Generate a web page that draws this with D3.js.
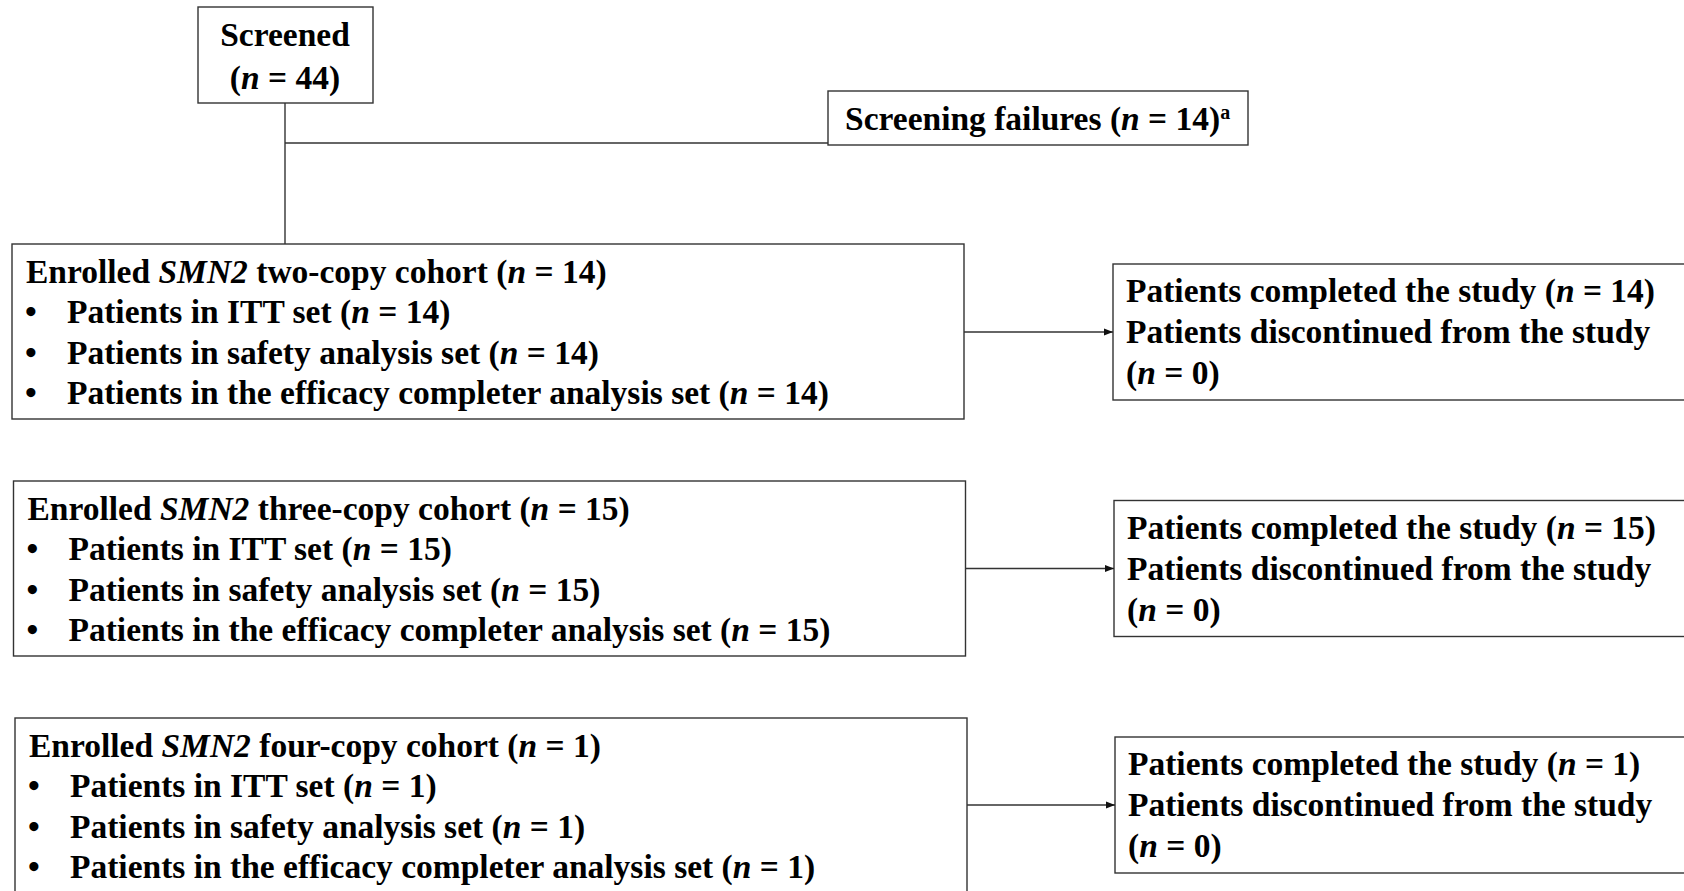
<!DOCTYPE html>
<html>
<head>
<meta charset="utf-8">
<script src="https://cdn.jsdelivr.net/npm/d3@7"></script>
<style>
  html, body { margin: 0; padding: 0; background: #fff; }
  svg { display: block; }
  text { font-family: "Liberation Serif", "Times New Roman", serif; font-weight: bold; fill: #000; }
</style>
</head>
<body>
<svg id="chart" width="1684" height="891"></svg>
<script>
// ---- data ----
const screenedN = 44;
const screeningFailuresN = 14;
const cohortLabels = ["two-copy", "three-copy", "four-copy"];
const cohortN = [14, 15, 1];
const ittN = [14, 15, 1];
const safetyN = [14, 15, 1];
const efficacyN = [14, 15, 1];
const completedN = [14, 15, 1];
const discontinuedN = [0, 0, 0];

// ---- layout ----
const W = 1684, H = 891;
const FS = 33.5;
const stroke = "#333";
const svg = d3.select("#chart");

svg.append("defs").append("marker")
  .attr("id", "arrow").attr("markerUnits", "userSpaceOnUse")
  .attr("viewBox", "0 -5 10 10").attr("refX", 10).attr("refY", 0)
  .attr("markerWidth", 9).attr("markerHeight", 9).attr("orient", "auto")
  .append("path").attr("d", "M0,-4L10,0L0,4Z").attr("fill", "#111");

// rich text: segments split on underscores -> italic
function rich(sel, str) {
  str.split("_").forEach((s, i) => {
    if (!s) return;
    sel.append("tspan").attr("font-style", i % 2 ? "italic" : "normal").text(s);
  });
  return sel;
}

// row scales
const rowTop = d3.scalePoint().domain(cohortLabels).range([244, 718]);
const rowLeft = d3.scalePoint().domain(cohortLabels).range([12, 15]);
const leftW = 952, leftH = 175;
const rightX = d3.scalePoint().domain(cohortLabels).range([1113, 1115]);
const rightOffset = d3.scalePoint().domain(cohortLabels).range([20, 19]);
const rightH = 136;
const lineGap = 40.3;

// Screened box
const scr = { x: 198, y: 7, w: 175, h: 96 };
const scrCx = 285;
svg.append("rect").attr("x", scr.x).attr("y", scr.y).attr("width", scr.w).attr("height", scr.h)
  .attr("fill", "#fff").attr("stroke", stroke).attr("stroke-width", 1.4);
rich(svg.append("text").attr("x", scrCx).attr("y", 46).attr("text-anchor", "middle").attr("font-size", FS), "Screened");
rich(svg.append("text").attr("x", scrCx).attr("y", 89).attr("text-anchor", "middle").attr("font-size", FS), "(_n_ = " + screenedN + ")");

// connector lines
svg.append("line").attr("x1", scrCx).attr("x2", scrCx).attr("y1", scr.y + scr.h).attr("y2", rowTop(cohortLabels[0]))
  .attr("stroke", stroke).attr("stroke-width", 1.4);
const sf = { x: 828, y: 91, w: 420, h: 54 };
svg.append("line").attr("x1", scrCx).attr("x2", sf.x).attr("y1", 143).attr("y2", 143)
  .attr("stroke", stroke).attr("stroke-width", 1.4);

// Screening failures box
svg.append("rect").attr("x", sf.x).attr("y", sf.y).attr("width", sf.w).attr("height", sf.h)
  .attr("fill", "#fff").attr("stroke", stroke).attr("stroke-width", 1.4);
const sfText = rich(svg.append("text").attr("x", 845).attr("y", 130).attr("font-size", FS),
  "Screening failures (_n_ = " + screeningFailuresN + ")");
sfText.append("tspan").attr("font-size", 20).attr("dy", -11).text("a");

// cohort rows
cohortLabels.forEach((lab, i) => {
  const y0 = rowTop(lab), x0 = rowLeft(lab);
  const g = svg.append("g");
  g.append("rect").attr("x", x0).attr("y", y0).attr("width", leftW).attr("height", leftH)
    .attr("fill", "#fff").attr("stroke", stroke).attr("stroke-width", 1.4);
  const base = y0 + 39;
  rich(g.append("text").attr("x", x0 + 14).attr("y", base).attr("font-size", FS),
    "Enrolled _SMN2_ " + lab + " cohort (_n_ = " + cohortN[i] + ")");
  const bullets = [
    "Patients in ITT set (_n_ = " + ittN[i] + ")",
    "Patients in safety analysis set (_n_ = " + safetyN[i] + ")",
    "Patients in the efficacy completer analysis set (_n_ = " + efficacyN[i] + ")"
  ];
  bullets.forEach((b, j) => {
    const yb = base + lineGap * (j + 1);
    g.append("text").attr("x", x0 + 13).attr("y", yb).attr("font-size", FS).text("\u2022");
    rich(g.append("text").attr("x", x0 + 55).attr("y", yb).attr("font-size", FS), b);
  });

  // right box
  const ry = y0 + rightOffset(lab), rx = rightX(lab);
  g.append("rect").attr("x", rx).attr("y", ry).attr("width", W - rx + 20).attr("height", rightH)
    .attr("fill", "#fff").attr("stroke", stroke).attr("stroke-width", 1.4);
  const rl = [
    "Patients completed the study (_n_ = " + completedN[i] + ")",
    "Patients discontinued from the study",
    "(_n_ = " + discontinuedN[i] + ")"
  ];
  rl.forEach((t, j) => {
    rich(g.append("text").attr("x", rx + 13).attr("y", ry + 38 + 41 * j).attr("font-size", FS), t);
  });

  // arrow
  const ay = ry + rightH / 2;
  g.append("line").attr("x1", x0 + leftW).attr("x2", rx).attr("y1", ay).attr("y2", ay)
    .attr("stroke", stroke).attr("stroke-width", 1.4).attr("marker-end", "url(#arrow)");
});
</script>
</body>
</html>
